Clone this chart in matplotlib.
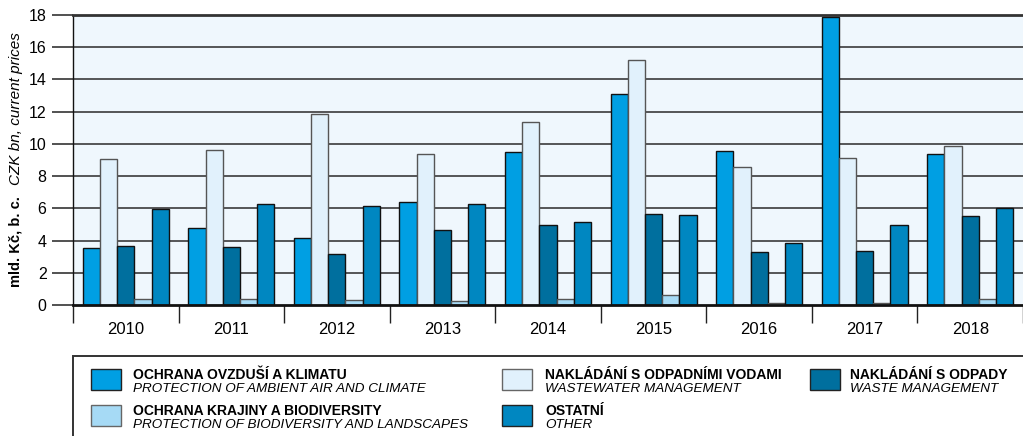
import matplotlib
matplotlib.use("Agg")
import matplotlib.pyplot as plt
import numpy as np
from matplotlib.patches import Rectangle

plt.rcParams['font.family'] = ['Liberation Sans', 'DejaVu Sans']

years = ['2010', '2011', '2012', '2013', '2014', '2015', '2016', '2017', '2018']
air = [3.55, 4.8, 4.15, 6.4, 9.5, 13.1, 9.55, 17.85, 9.35]
wastewater = [9.05, 9.65, 11.85, 9.4, 11.35, 15.2, 8.55, 9.1, 9.85]
waste = [3.65, 3.6, 3.15, 4.65, 4.95, 5.65, 3.3, 3.35, 5.5]
biodiversity = [0.4, 0.4, 0.3, 0.25, 0.4, 0.6, 0.15, 0.15, 0.35]
other = [5.95, 6.3, 6.15, 6.3, 5.15, 5.6, 3.85, 4.95, 6.0]

series = [air, wastewater, waste, biodiversity, other]
colors = ['#009FE3', '#E1F1FC', '#006F9E', '#A6DAF5', '#0087C1']
edges = ['#111111', '#555555', '#111111', '#555555', '#111111']

cz_labels = ['OCHRANA OVZDUŠÍ A KLIMATU', 'NAKLÁDÁNÍ S ODPADNÍMI VODAMI', 'NAKLÁDÁNÍ S ODPADY',
             'OCHRANA KRAJINY A BIODIVERSITY', 'OSTATNÍ']
en_labels = ['PROTECTION OF AMBIENT AIR AND CLIMATE', 'WASTEWATER MANAGEMENT', 'WASTE MANAGEMENT',
             'PROTECTION OF BIODIVERSITY AND LANDSCAPES', 'OTHER']
leg_colors = [colors[0], colors[1], colors[2], colors[3], colors[4]]
leg_edges = ['#222222', '#666666', '#222222', '#666666', '#222222']

W, H = 1023, 436
fig = plt.figure(figsize=(W / 100, H / 100), dpi=100)
ax = fig.add_axes([73 / W, 1 - 305 / H, (W - 73) / W, 290 / H])
ax.set_facecolor('#EFF7FD')

x = np.arange(len(years))
bw = 0.163
for k, (vals, c, e) in enumerate(zip(series, colors, edges)):
    ax.bar(x + (k - 2) * bw, vals, width=bw, color=c, edgecolor=e, linewidth=1.0, zorder=3)

ax.set_ylim(0, 18)
ax.set_xlim(-0.5, -0.5 + (W - 73) / 106)
ax.set_yticks(np.arange(0, 19, 2))
ax.set_yticklabels([str(v) for v in range(0, 19, 2)], fontsize=11.5)
for yv in range(2, 18, 2):
    ax.axhline(yv, color='#2a2a2a', linewidth=1.1, zorder=1)

ax.set_xticks(np.arange(-0.5, 9, 1))
ax.set_xticklabels([])
ax.tick_params(axis='x', length=13, width=1, color='#222222', direction='out')
ax.tick_params(axis='y', length=15, width=1.1, color='#222222', direction='out', pad=4)
for i, yr in enumerate(years):
    ax.text(i, -1.55, yr, ha='center', va='center', fontsize=12)

ax.spines['top'].set_linewidth(2)
ax.spines['top'].set_color('#333333')
ax.spines['bottom'].set_linewidth(2)
ax.spines['bottom'].set_color('#111111')
ax.spines['bottom'].set_zorder(5)
ax.spines['left'].set_linewidth(1)
ax.spines['left'].set_color('#111111')
ax.spines['right'].set_visible(False)

# y labels
fig.text(16 / W, 1 - 287 / H, 'mld. Kč, b. c.', rotation=90, ha='center', va='bottom',
         fontsize=10.5, fontweight='bold')
fig.text(16 / W, 1 - 32 / H, 'CZK bn, current prices', rotation=90, ha='center', va='top',
         fontsize=11, fontstyle='italic')

# legend box
fig.patches.append(Rectangle((73 / W, -0.05), 1.1, 1 - 356 / H + 0.05, transform=fig.transFigure,
                             fill=False, edgecolor='#333333', linewidth=1.4))
cols = [(91, 133), (502, 545), (810, 850)]
rows = [369, 405]
positions = [(0, 0), (1, 0), (2, 0), (0, 1), (1, 1)]
for i, (c, r) in enumerate(positions):
    sx, tx = cols[c]
    sy = rows[r]
    fig.patches.append(Rectangle((sx / W, 1 - (sy + 21) / H), 30 / W, 21 / H, transform=fig.transFigure,
                                 facecolor=leg_colors[i], edgecolor=leg_edges[i], linewidth=1.0))
    fig.text(tx / W, 1 - (sy + 10) / H, cz_labels[i], ha='left', va='baseline', fontsize=10,
             fontweight='bold')
    fig.text(tx / W, 1 - (sy + 23) / H, en_labels[i], ha='left', va='baseline', fontsize=9.7,
             fontstyle='italic')

fig.savefig('out.png', dpi=100)
